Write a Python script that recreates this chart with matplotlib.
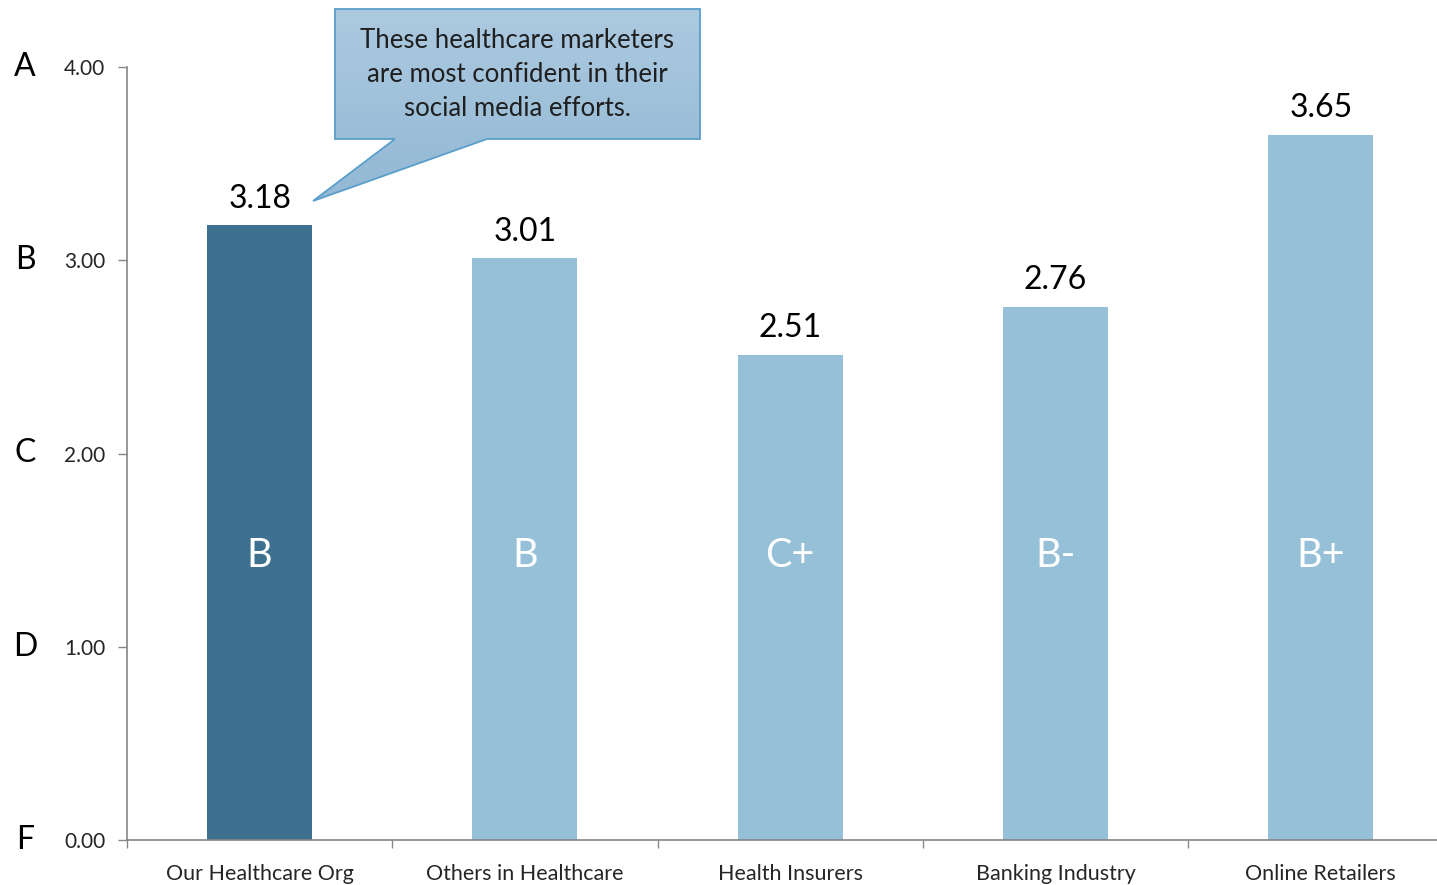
import matplotlib.pyplot as plt
import numpy as np
from matplotlib.patches import Polygon
from matplotlib.transforms import blended_transform_factory

# data
categories = ["Our Healthcare Org", "Others in Healthcare", "Health Insurers",
              "Banking Industry", "Online Retailers"]
scores = [3.18, 3.01, 2.51, 2.76, 3.65]
grades = ["B", "B", "C+", "B-", "B+"]
scale_values = [0, 1, 2, 3, 4]
scale_letters = ["F", "D", "C", "B", "A"]
callout_text = "These healthcare marketers\nare most confident in their\nsocial media efforts."

plt.rcParams['font.family'] = ['Lato', 'DejaVu Sans']

W, H = 1437, 885
fig = plt.figure(figsize=(W / 100, H / 100), dpi=100)

# axes placed in pixels: left spine at x=127, zero line at y=840, 4.00 at y=67
ax = fig.add_axes([127 / W, (H - 840) / H, 1 - 127 / W, 773 / H])
step_px = 265.3  # one category in pixels

x = np.arange(len(categories))
colors = ["#3d718f"] + ["#96c0d8"] * (len(categories) - 1)
ax.bar(x, scores, width=0.396, color=colors, zorder=2)

axis_grey = "#868686"
for s in ["top", "right"]:
    ax.spines[s].set_visible(False)
for s in ["left", "bottom"]:
    ax.spines[s].set_color(axis_grey)
    ax.spines[s].set_linewidth(1.2)

ax.set_yticks(scale_values)
ax.set_yticklabels([f"{v:.2f}" for v in scale_values])
ax.tick_params(axis='y', colors=axis_grey, labelcolor="#262626", length=6.5, width=1.0,
               labelsize=15, pad=9)

# category boundaries as major ticks, names on minor ticks at bar centres
ax.set_xticks(np.arange(len(categories) + 1) - 0.5)
ax.set_xticklabels([])
ax.set_xticks(x, minor=True)
ax.set_xticklabels(categories, minor=True)
ax.tick_params(axis='x', which='major', colors=axis_grey, length=6, width=1.0)
ax.tick_params(axis='x', which='minor', length=0, labelsize=15.5, labelcolor="#262626", pad=17.5)

# limits after ticks so the off-figure boundary tick does not stretch the view
ax.set_ylim(0, 4)
ax.set_xlim(-0.5, -0.5 + (W - 127) / step_px)

# letter grade scale on the far left
trans = blended_transform_factory(fig.transFigure, ax.transData)
for v, letter in zip(scale_values, scale_letters):
    ax.text(25 / W, v, letter, transform=trans, ha='center', va='center',
            fontsize=23, color="black")

# value labels and grades
for xi, v, g in zip(x, scores, grades):
    ax.annotate(f"{v:.2f}", (xi, v), xytext=(0, 8.5), textcoords='offset points',
                ha='center', va='bottom', fontsize=23, color="black")
    ax.text(xi, 1.47, g, ha='center', va='center', fontsize=28.5, color="white", zorder=3)

# callout box drawn in pixel space on an overlay
ov = fig.add_axes([0, 0, 1, 1], zorder=5)
ov.axis('off')
ov.patch.set_alpha(0)

outline = [(335, 9), (700, 9), (700, 139), (487, 139), (313, 201),
           (395, 139), (335, 139)]
shape = Polygon(outline, closed=True, facecolor='none', edgecolor="#5a9ecb", linewidth=1.3,
                zorder=3)
ov.add_patch(shape)
grad = np.linspace(0, 1, 256).reshape(-1, 1)
top_c = np.array([172, 202, 224]) / 255
bot_c = np.array([146, 184, 212]) / 255
img = top_c[None, None, :] * (1 - grad[:, :, None]) + bot_c[None, None, :] * grad[:, :, None]
im = ov.imshow(img, extent=(313, 700, 201, 9), aspect='auto', zorder=2)
im.set_clip_path(shape)
ov.set_xlim(0, W)
ov.set_ylim(H, 0)
ov.text(517, 75, callout_text, ha='center', va='center', fontsize=18.5,
        color="#1f1f1f", linespacing=1.45, zorder=4)

fig.savefig("out.png", dpi=100)
